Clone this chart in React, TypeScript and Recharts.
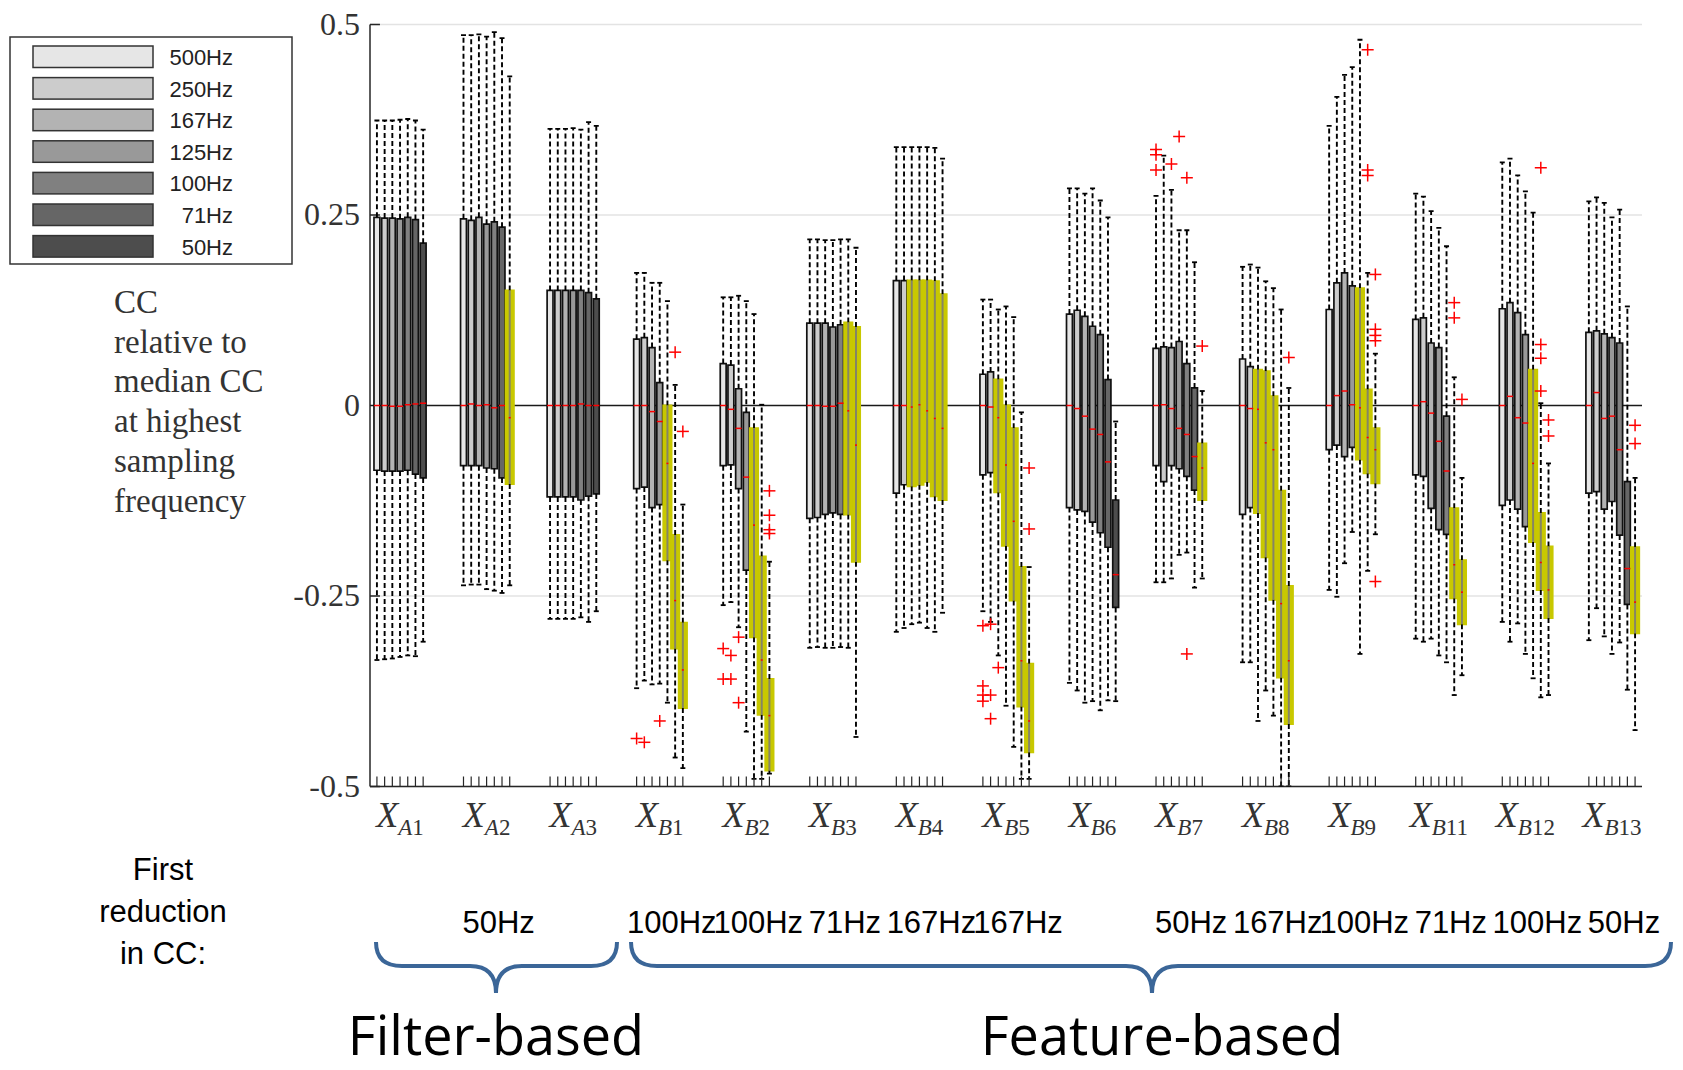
import React from "react";
import {
  ComposedChart,
  XAxis,
  YAxis,
  CartesianGrid,
  ReferenceArea,
  ReferenceLine,
  Scatter,
} from "recharts";

// groups on the x axis (subscript of X)
const groups = ["A1", "A2", "A3", "B1", "B2", "B3", "B4", "B5", "B6", "B7", "B8", "B9", "B11", "B12", "B13"];
const freqs = ["500Hz", "250Hz", "167Hz", "125Hz", "100Hz", "71Hz", "50Hz"];
const boxFills = ["#e6e6e6", "#cccccc", "#b3b3b3", "#999999", "#808080", "#666666", "#4d4d4d"];

// one row per group, one value per sampling frequency (500Hz .. 50Hz)
const whiskerTop = [
  [0.374, 0.374, 0.374, 0.375, 0.376, 0.374, 0.362],
  [0.486, 0.486, 0.487, 0.484, 0.49, 0.482, 0.432],
  [0.363, 0.363, 0.363, 0.364, 0.362, 0.372, 0.367],
  [0.174, 0.174, 0.161, 0.161, 0.137, 0.027, -0.13],
  [0.142, 0.142, 0.144, 0.137, 0.12, 0.001, -0.205],
  [0.218, 0.218, 0.217, 0.217, 0.218, 0.218, 0.207],
  [0.339, 0.339, 0.339, 0.339, 0.339, 0.338, 0.324],
  [0.139, 0.139, 0.126, 0.13, 0.116, -0.009, -0.212],
  [0.285, 0.285, 0.278, 0.285, 0.269, 0.247, -0.021],
  [0.275, 0.328, 0.283, 0.23, 0.23, 0.188, 0.019],
  [0.182, 0.185, 0.181, 0.163, 0.154, 0.126, 0.023],
  [0.367, 0.405, 0.434, 0.444, 0.48, 0.174, 0.068],
  [0.278, 0.274, 0.255, 0.233, 0.209, 0.037, -0.095],
  [0.319, 0.324, 0.302, 0.281, 0.253, 0.003, -0.076],
  [0.268, 0.273, 0.266, 0.247, 0.257, 0.13, -0.095],
];
const upperQuartile = [
  [0.247, 0.246, 0.246, 0.245, 0.247, 0.244, 0.213],
  [0.245, 0.243, 0.247, 0.238, 0.241, 0.234, 0.151],
  [0.151, 0.151, 0.151, 0.151, 0.151, 0.148, 0.14],
  [0.087, 0.089, 0.076, 0.03, 0, -0.17, -0.285],
  [0.055, 0.053, 0.022, -0.009, -0.03, -0.198, -0.359],
  [0.108, 0.108, 0.108, 0.103, 0.106, 0.109, 0.103],
  [0.164, 0.164, 0.164, 0.164, 0.164, 0.163, 0.146],
  [0.041, 0.044, 0.034, 0, -0.03, -0.212, -0.339],
  [0.12, 0.125, 0.117, 0.104, 0.093, 0.034, -0.124],
  [0.075, 0.077, 0.076, 0.084, 0.055, 0.023, -0.05],
  [0.061, 0.051, 0.047, 0.045, 0.012, -0.112, -0.237],
  [0.126, 0.161, 0.174, 0.157, 0.154, 0.021, -0.03],
  [0.113, 0.115, 0.082, 0.076, -0.014, -0.135, -0.203],
  [0.127, 0.135, 0.122, 0.093, 0.047, -0.141, -0.185],
  [0.096, 0.098, 0.094, 0.089, 0.082, -0.1, -0.186],
];
const medians = [
  [0, 0, -0.001, -0.001, 0.001, 0.002, 0.003],
  [0, 0.002, 0, 0.001, -0.003, 0, -0.016],
  [0, 0, 0, 0, 0.002, 0, 0],
  [0, 0, -0.008, -0.021, -0.076, -0.256, -0.347],
  [0, -0.005, -0.03, -0.094, -0.157, -0.334, -0.407],
  [0, 0, -0.001, -0.001, 0.003, -0.007, -0.052],
  [0, 0, -0.002, 0.001, -0.007, -0.017, -0.03],
  [0, -0.002, -0.016, -0.078, -0.152, -0.335, -0.414],
  [0, -0.004, -0.014, -0.031, -0.038, -0.074, -0.222],
  [0, 0.001, -0.004, -0.03, -0.038, -0.067, -0.082],
  [0, -0.004, -0.005, -0.049, -0.058, -0.26, -0.335],
  [0, 0.013, 0.019, 0.001, -0.003, -0.042, -0.058],
  [0, 0.005, -0.01, -0.047, -0.086, -0.209, -0.245],
  [0, 0.012, -0.016, -0.023, -0.076, -0.206, -0.242],
  [0, 0.017, -0.017, -0.014, -0.058, -0.214, -0.258],
];
const lowerQuartile = [
  [-0.085, -0.086, -0.086, -0.086, -0.085, -0.09, -0.095],
  [-0.079, -0.079, -0.079, -0.082, -0.083, -0.095, -0.103],
  [-0.12, -0.12, -0.12, -0.12, -0.124, -0.119, -0.116],
  [-0.109, -0.107, -0.134, -0.13, -0.203, -0.319, -0.397],
  [-0.079, -0.078, -0.109, -0.216, -0.304, -0.406, -0.479],
  [-0.148, -0.147, -0.143, -0.141, -0.143, -0.143, -0.205],
  [-0.115, -0.104, -0.106, -0.104, -0.1, -0.119, -0.124],
  [-0.091, -0.088, -0.114, -0.184, -0.256, -0.395, -0.455],
  [-0.134, -0.137, -0.139, -0.153, -0.167, -0.186, -0.265],
  [-0.079, -0.1, -0.079, -0.083, -0.093, -0.111, -0.124],
  [-0.143, -0.134, -0.141, -0.199, -0.255, -0.357, -0.418],
  [-0.058, -0.052, -0.067, -0.055, -0.071, -0.089, -0.102],
  [-0.091, -0.093, -0.135, -0.163, -0.169, -0.253, -0.287],
  [-0.131, -0.124, -0.136, -0.159, -0.179, -0.242, -0.279],
  [-0.115, -0.113, -0.136, -0.126, -0.17, -0.261, -0.299],
];
const whiskerBottom = [
  [-0.334, -0.333, -0.332, -0.33, -0.328, -0.329, -0.31],
  [-0.236, -0.235, -0.235, -0.241, -0.243, -0.246, -0.236],
  [-0.28, -0.28, -0.28, -0.28, -0.278, -0.284, -0.27],
  [-0.371, -0.361, -0.366, -0.365, -0.39, -0.462, -0.476],
  [-0.262, -0.258, -0.291, -0.428, -0.49, -0.49, -0.483],
  [-0.318, -0.317, -0.318, -0.318, -0.317, -0.318, -0.435],
  [-0.297, -0.292, -0.287, -0.285, -0.292, -0.297, -0.272],
  [-0.27, -0.284, -0.328, -0.394, -0.448, -0.49, -0.49],
  [-0.364, -0.374, -0.39, -0.388, -0.4, -0.387, -0.388],
  [-0.232, -0.232, -0.227, -0.196, -0.193, -0.239, -0.227],
  [-0.337, -0.337, -0.414, -0.374, -0.407, -0.5, -0.5],
  [-0.242, -0.251, -0.207, -0.166, -0.326, -0.217, -0.169],
  [-0.306, -0.31, -0.306, -0.328, -0.337, -0.38, -0.354],
  [-0.284, -0.31, -0.286, -0.326, -0.358, -0.383, -0.38],
  [-0.308, -0.266, -0.303, -0.326, -0.311, -0.373, -0.426],
];
// boxes marked in yellow (index into freqs)
const highlighted = [
  [], [6], [], [4, 5, 6], [4, 5, 6], [5, 6], [2, 3, 4, 5, 6], [2, 3, 4, 5, 6],
  [], [6], [2, 3, 4, 5, 6], [4, 5, 6], [5, 6], [4, 5, 6], [6],
];
// [group, frequency index, value]
const outliers: [number, number, number][] = [
  [3, 0, -0.437], [3, 1, -0.442], [3, 3, -0.414], [3, 5, 0.07], [3, 6, -0.034],
  [4, 0, -0.319], [4, 0, -0.359], [4, 1, -0.328], [4, 1, -0.359], [4, 2, -0.304], [4, 2, -0.39],
  [4, 6, -0.112], [4, 6, -0.144], [4, 6, -0.163], [4, 6, -0.168],
  [7, 0, -0.289], [7, 0, -0.368], [7, 0, -0.38], [7, 0, -0.388], [7, 1, -0.287], [7, 1, -0.38],
  [7, 1, -0.411], [7, 2, -0.344], [7, 6, -0.082], [7, 6, -0.162],
  [9, 0, 0.336], [9, 0, 0.329], [9, 0, 0.309], [9, 2, 0.317], [9, 3, 0.353], [9, 4, 0.299],
  [9, 4, -0.326], [9, 6, 0.078],
  [10, 6, 0.063],
  [11, 5, 0.467], [11, 5, 0.309], [11, 5, 0.302], [11, 6, 0.172], [11, 6, 0.1], [11, 6, 0.092],
  [11, 6, 0.085], [11, 6, -0.231],
  [12, 5, 0.135], [12, 5, 0.115], [12, 6, 0.008],
  [13, 5, 0.312], [13, 5, 0.08], [13, 5, 0.062], [13, 5, 0.019], [13, 6, -0.019], [13, 6, -0.04],
  [14, 6, -0.026], [14, 6, -0.05],
];
const firstReduction = ["", "50Hz", "", "100Hz", "100Hz", "71Hz", "167Hz", "167Hz", "", "50Hz", "167Hz", "100Hz", "71Hz", "100Hz", "50Hz"];
const yTicks = [-0.5, -0.25, 0, 0.25, 0.5];
const yLabelLines = ["CC", "relative to", "median CC", "at highest", "sampling", "frequency"];
const reductionTitle = ["First", "reduction", "in CC:"];

const BOX_STEP = 0.089;
const BOX_HALF = 0.034;
const HL_HALF = 0.047;
const X_DOMAIN: [number, number] = [0.653, 15.347];
const SERIF = "'Liberation Serif', 'Times New Roman', serif";
const SANS = "'Liberation Sans', Arial, sans-serif";
const AXIS = "#262626";

const boxes = groups.flatMap((_, gi) =>
  freqs.map((_, bi) => ({
    gi,
    bi,
    x: gi + 1 + (bi - 3) * BOX_STEP,
    wt: whiskerTop[gi][bi],
    q3: upperQuartile[gi][bi],
    y: medians[gi][bi],
    q1: lowerQuartile[gi][bi],
    wb: whiskerBottom[gi][bi],
    hl: highlighted[gi].includes(bi),
  }))
);
const capPoints = boxes.flatMap((b) => [
  { x: b.x, y: b.wt },
  { x: b.x, y: b.wb },
]);
const tickPoints = boxes.map((b) => ({ x: b.x, y: -0.5 }));
const outlierPoints = outliers.map(([gi, bi, v]) => ({ x: gi + 1 + (bi - 3) * BOX_STEP, y: v }));

function GroupTick(props: any) {
  const { x, y, payload } = props;
  const i = Math.round(payload.value) - 1;
  const name = groups[i];
  return (
    <g>
      <text x={x} y={y + 40} textAnchor="middle" fill="#333" fontFamily={SERIF}>
        <tspan fontSize={36} fontStyle="italic">X</tspan>
        <tspan fontSize={23} fontStyle="italic" dy={8}>{name[0]}</tspan>
        <tspan fontSize={23}>{name.slice(1)}</tspan>
      </text>
      {firstReduction[i] ? (
        <text x={x + 12} y={y + 146} textAnchor="middle" fontFamily={SANS} fontSize={31} fill="#000">
          {firstReduction[i]}
        </text>
      ) : null}
    </g>
  );
}

function ValueTick(props: any) {
  const { x, y, payload } = props;
  return (
    <text x={x} y={y} dy={10} textAnchor="end" fontFamily={SERIF} fontSize={32} fill="#333">
      {payload.value === 0 ? "0" : String(payload.value)}
    </text>
  );
}

function GridLine(props: any) {
  const { x1, x2, y1, y2, index } = props;
  const zero = index === 2;
  return (
    <line
      key={`g${index}`}
      x1={x1}
      x2={x2}
      y1={y1}
      y2={y2}
      stroke={zero ? "#1a1a1a" : "#e3e3e3"}
      strokeWidth={1.5}
    />
  );
}

function brace(x1: number, x2: number, xm: number, yt: number, yh: number, yb: number, r: number) {
  return `M ${x1} ${yt} Q ${x1} ${yh} ${x1 + r} ${yh} L ${xm - r} ${yh} Q ${xm} ${yh} ${xm} ${yb} Q ${xm} ${yh} ${xm + r} ${yh} L ${x2 - r} ${yh} Q ${x2} ${yh} ${x2} ${yt}`;
}

export default function App() {
  const normal = boxes.filter((b) => !b.hl);
  const marked = boxes.filter((b) => b.hl);
  return (
    <div style={{ position: "absolute", left: 0, top: 0, width: 1683, height: 1070, background: "#fff" }}>
      <div style={{ position: "absolute", left: 0, top: 0 }}>
        <ComposedChart width={1683} height={1070} margin={{ top: 24.5, right: 41, bottom: 223.5, left: 300 }}>
          <CartesianGrid vertical={false} horizontal={GridLine as any} />
          <XAxis
            dataKey="x"
            type="number"
            domain={X_DOMAIN}
            allowDataOverflow
            ticks={groups.map((_, i) => i + 1)}
            interval={0}
            tickLine={false}
            tickSize={0}
            tickMargin={0}
            height={60}
            axisLine={{ stroke: AXIS, strokeWidth: 1.5 }}
            tick={(p: any) => <GroupTick {...p} />}
          />
          <YAxis
            dataKey="y"
            type="number"
            domain={[-0.5, 0.5]}
            allowDataOverflow
            ticks={yTicks}
            interval={0}
            width={70}
            tickLine={false}
            tickSize={0}
            tickMargin={10}
            axisLine={{ stroke: AXIS, strokeWidth: 1.5 }}
            tick={(p: any) => <ValueTick {...p} />}
          />
          {yTicks
            .filter((t) => t !== 0)
            .map((t) => (
              <ReferenceLine
                key={`yt${t}`}
                segment={[{ x: X_DOMAIN[0], y: t }, { x: X_DOMAIN[0] + 0.115, y: t }]}
                stroke={AXIS}
                strokeWidth={1.5}
                ifOverflow="visible"
              />
            ))}
          {boxes.map((b) => (
            <ReferenceLine
              key={`wu${b.gi}-${b.bi}`}
              segment={[{ x: b.x, y: b.q3 }, { x: b.x, y: b.wt }]}
              stroke="#000"
              strokeWidth={1.9}
              strokeDasharray="5 3"
              ifOverflow="visible"
            />
          ))}
          {boxes.map((b) => (
            <ReferenceLine
              key={`wl${b.gi}-${b.bi}`}
              segment={[{ x: b.x, y: b.q1 }, { x: b.x, y: b.wb }]}
              stroke="#000"
              strokeWidth={1.9}
              strokeDasharray="5 3"
              ifOverflow="visible"
            />
          ))}
          {normal.map((b) => (
            <ReferenceArea
              key={`b${b.gi}-${b.bi}`}
              x1={b.x - BOX_HALF}
              x2={b.x + BOX_HALF}
              y1={b.q1}
              y2={b.q3}
              fill={boxFills[b.bi]}
              fillOpacity={1}
              stroke="#111"
              strokeWidth={1.7}
              ifOverflow="visible"
            />
          ))}
          {marked.map((b) => (
            <ReferenceArea
              key={`h${b.gi}-${b.bi}`}
              x1={b.x - HL_HALF}
              x2={b.x + HL_HALF}
              y1={b.q1}
              y2={b.q3}
              fill="#c8c800"
              fillOpacity={1}
              stroke="#c8c800"
              strokeWidth={2}
              ifOverflow="visible"
            />
          ))}
          {marked.map((b) => (
            <ReferenceLine
              key={`hc${b.gi}-${b.bi}`}
              segment={[{ x: b.x, y: b.q1 }, { x: b.x, y: b.q3 }]}
              stroke="#858565"
              strokeWidth={2}
              ifOverflow="visible"
            />
          ))}
          <Scatter
            data={capPoints}
            isAnimationActive={false}
            shape={(p: any) => (
              <line x1={p.cx - 2.5} x2={p.cx + 2.5} y1={p.cy} y2={p.cy} stroke="#000" strokeWidth={1.8} />
            )}
          />
          <Scatter
            data={tickPoints}
            isAnimationActive={false}
            shape={(p: any) => (
              <line x1={p.cx} x2={p.cx} y1={p.cy} y2={p.cy - 10} stroke={AXIS} strokeWidth={1.2} />
            )}
          />
          <Scatter
            data={boxes}
            isAnimationActive={false}
            shape={(p: any) => {
              const w = p.payload.hl ? 1 : 3;
              return (
                <line x1={p.cx - w} x2={p.cx + w} y1={p.cy} y2={p.cy} stroke="#ff0000" strokeWidth={1.5} />
              );
            }}
          />
          <Scatter
            data={outlierPoints}
            isAnimationActive={false}
            shape={(p: any) => (
              <g stroke="#ff0000" strokeWidth={1.5}>
                <line x1={p.cx - 6} x2={p.cx + 6} y1={p.cy} y2={p.cy} />
                <line x1={p.cx} x2={p.cx} y1={p.cy - 6} y2={p.cy + 6} />
              </g>
            )}
          />
        </ComposedChart>
      </div>
      <svg
        width={1683}
        height={1070}
        style={{ position: "absolute", left: 0, top: 0, pointerEvents: "none" }}
      >
        {/* legend */}
        <rect x={10} y={37} width={282} height={227} fill="#fff" stroke="#333" strokeWidth={1.5} />
        {freqs.map((f, i) => (
          <g key={f}>
            <rect x={33} y={46 + i * 31.6} width={120} height={21.5} fill={boxFills[i]} stroke="#333" strokeWidth={1.5} />
            <text x={233} y={65 + i * 31.6} textAnchor="end" fontFamily={SANS} fontSize={22} fill="#222">
              {f}
            </text>
          </g>
        ))}
        {/* y label */}
        {yLabelLines.map((l, i) => (
          <text key={l} x={114} y={313 + i * 39.7} fontFamily={SERIF} fontSize={33} fill="#333">
            {l}
          </text>
        ))}
        {/* first reduction caption */}
        {reductionTitle.map((l, i) => (
          <text key={l} x={163} y={880 + i * 42} textAnchor="middle" fontFamily={SANS} fontSize={31} fill="#000">
            {l}
          </text>
        ))}
        <path d={brace(376, 617, 496, 942, 966, 993, 26)} fill="none" stroke="#3b6698" strokeWidth={4} />
        <path d={brace(631, 1671, 1152, 942, 966, 993, 26)} fill="none" stroke="#3b6698" strokeWidth={4} />
        <text x={496} y={1055} textAnchor="middle" fontFamily="'Open Sans', sans-serif" fontSize={54} fill="#000">
          Filter-based
        </text>
        <text x={1162} y={1055} textAnchor="middle" fontFamily="'Open Sans', sans-serif" fontSize={54} fill="#000">
          Feature-based
        </text>
      </svg>
    </div>
  );
}
